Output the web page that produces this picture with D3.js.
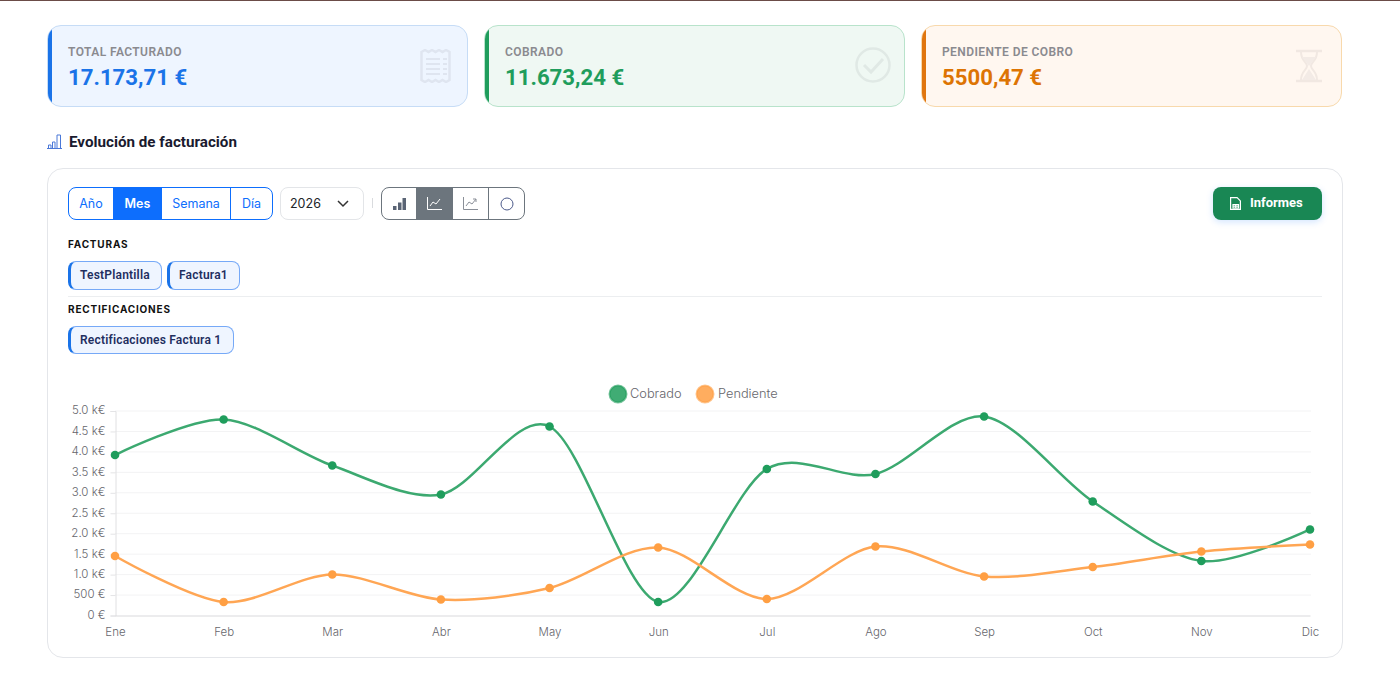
<!DOCTYPE html>
<html lang="es">
<head>
<meta charset="utf-8">
<title>Evolución de facturación</title>
<script src="https://cdn.jsdelivr.net/npm/d3@7/dist/d3.min.js"></script>
<style>
  html, body { margin: 0; padding: 0; background: #fff; width: 1400px; height: 679px; overflow: hidden; font-family: Roboto, sans-serif; }
  .abs { position: absolute; box-sizing: border-box; }
  #topline { left: 0; top: 0; width: 1400px; height: 1px; background: #6b4c48; }
  .kpi { top: 25px; width: 421px; height: 82px; border-radius: 14px; border: 1px solid; overflow: hidden; }
  .kpi .bar { position: absolute; left: -1px; top: -1px; bottom: -1px; width: 5px; }
  .kpi .lbl { position: absolute; left: 20px; top: 19px; font-size: 12px; font-weight: 600; color: #8a8a8f; letter-spacing: .42px; white-space: nowrap; }
  .kpi .val { position: absolute; left: 20px; top: 38px; font-size: 22.2px; font-weight: 700; white-space: nowrap; }
  .kpi svg { position: absolute; }
  #title { left: 69px; top: 133px; font-size: 15.2px; font-weight: 700; color: #1a1a2e; white-space: nowrap; }
  #panel { left: 47px; top: 168px; width: 1296px; height: 490px; border: 1px solid #e4e6ea; border-radius: 16px; }
  .group { top: 187px; height: 33px; display: flex; border-radius: 8px; border: 1px solid; overflow: hidden; font-family: Inter, sans-serif; font-size: 12.5px; }
  .group div { display: flex; align-items: center; justify-content: center; box-sizing: border-box; flex: none; }
  #period { left: 68px; width: 205px; border-color: #0d6efd; color: #0d6efd; }
  #period div + div { border-left: 1px solid #0d6efd; }
  #period .on { background: #0d6efd; color: #fff; font-weight: 600; }
  #year { left: 280px; top: 187px; width: 84px; height: 33px; border: 1px solid #e3e5e8; border-radius: 8px; font-family: Inter, sans-serif; font-size: 12.5px; color: #212529; padding: 8px 0 0 9px; }
  #sep { left: 372px; top: 198px; width: 1px; height: 10px; background: #d9dbde; }
  #types { left: 381px; width: 144px; border-color: #6c757d; }
  #types div + div { border-left: 1px solid #6c757d; }
  #types .on { background: #6c757d; }
  #informes { left: 1213px; top: 187px; width: 109px; height: 33px; border-radius: 8px; background: #198754; color: #fff; font-size: 13px; font-weight: 700; box-shadow: 0 2px 7px rgba(13,110,253,.18); }
  #informes span { position: absolute; left: 37px; top: 8px; }
  .sect { left: 68px; font-family: Inter, sans-serif; font-size: 10px; font-weight: 700; letter-spacing: .82px; color: #111; white-space: nowrap; }
  .chip { height: 29px; border: 1px solid #76a9f7; border-left: 3px solid #1a73e8; border-radius: 8px; background: #eff5ff; color: #1f2f5f; font-family: Roboto, sans-serif; font-size: 12px; font-weight: 600; letter-spacing: .2px; padding: 5.5px 0 0 9px; white-space: nowrap; }
  #rule { left: 68px; top: 296px; width: 1254px; height: 1px; background: #eceef0; }
  #chart { left: 0; top: 370px; }
  #chart text { font-family: Inter, Lato, sans-serif; font-weight: 300; fill: #66666c; }
</style>
</head>
<body>
<div class="abs" id="topline"></div>

<div class="abs kpi" style="left:47px;background:#eef5ff;border-color:#c6dcf6">
  <div class="bar" style="background:#1a73e8"></div>
  <div class="lbl">TOTAL FACTURADO</div><div class="val" style="color:#1a73e8">17.173,71 €</div>
  <svg style="left:372px;top:23px" width="32" height="34" fill="none" stroke="#dfe5f0" stroke-width="2">
    <path d="M1.500 3l3.500-2 3.500 2 3.500-2 3.500 2 3.500-2 3.500 2 3.500-2 3.500 2v28l-3.500 2-3.500-2-3.500 2-3.500-2-3.500 2-3.500-2-3.500 2-3.500-2z" stroke-width="2.500"/><path d="M6 10h14M6 15h14M6 20h14M6 25h14M23 10h4M23 15h4M23 20h4M23 25h4"/>
  </svg>
</div>
<div class="abs kpi" style="left:484px;background:#eff8f3;border-color:#b8e3cb">
  <div class="bar" style="background:#1f9d5c"></div>
  <div class="lbl">COBRADO</div><div class="val" style="color:#1f9d5c">11.673,24 €</div>
  <svg style="left:369px;top:21px" width="38" height="38" fill="none" stroke="#e0e9e5" stroke-width="2.500">
    <circle cx="19" cy="18" r="16.500"/><path d="M10 18l7 7 12-13" stroke-width="3"/>
  </svg>
</div>
<div class="abs kpi" style="left:921px;background:#fff7f0;border-color:#f8d9ac">
  <div class="bar" style="background:#e0760f"></div>
  <div class="lbl">PENDIENTE DE COBRO</div><div class="val" style="color:#dd7403">5500,47 €</div>
  <svg style="left:373px;top:23px" width="28" height="34" fill="#f3ebe6" stroke="#f1e8e2" stroke-width="2">
    <path d="M1 2h26M1 32h26" fill="none" stroke-width="2.500"/>
    <path d="M6 3c0 9 6 10 6 14s-6 5-6 14" fill="none"/><path d="M22 3c0 9-6 10-6 14s6 5 6 14" fill="none"/>
    <path d="M7 8h14l-7 9zM14 20l7 11H7z" stroke="none"/>
  </svg>
</div>

<svg class="abs" style="left:47px;top:134px" width="15" height="15" fill="none" stroke="#4a78d8" stroke-width="1">
  <path d="M1.500 14v-3h2.500v3M5.500 14v-6h2.500v6M10 14V1h3.500v13M0 14.500h15"/>
</svg>
<div class="abs" id="title">Evolución de facturación</div>

<div class="abs" id="panel"></div>

<div class="abs group" id="period">
  <div style="width:44px">Año</div><div class="on" style="width:48px">Mes</div><div style="width:69px">Semana</div><div style="width:42px">Día</div>
</div>
<div class="abs" id="year">2026
  <svg style="position:absolute;left:56px;top:12px" width="12" height="8" fill="none" stroke="#333" stroke-width="1.500"><path d="M1 1l5 5 5-5"/></svg>
</div>
<div class="abs" id="sep"></div>
<div class="abs group" id="types">
  <div style="width:34px"><svg width="13" height="12" fill="#5a6475"><path d="M0 8h3.500v4H0zM5 4.500h3.500V12H5zM9.500 0H13v12H9.500z"/></svg></div>
  <div class="on" style="width:36px"><svg width="15" height="13" fill="none" stroke="#fff"><path d="M.5 0v12.500H15M3 9l3-4 3 2 4-5"/></svg></div>
  <div style="width:36px"><svg width="15" height="13" fill="none" stroke="#8a8f98"><path d="M.5 0v12.500H15M3 9l3-4 3 2 4-5M10 2h3v3" /></svg></div>
  <div style="width:36px"><svg width="14" height="14" fill="none" stroke="#4c5a8a"><circle cx="7" cy="7" r="6"/></svg></div>
</div>
<div class="abs" id="informes">
  <svg style="position:absolute;left:17px;top:10px" width="11" height="13" fill="none" stroke="#fff" stroke-width="1.200"><path d="M.6 12.400V.6h6.500l3.300 3.300v8.500zM3 7.500h5.500v3.500H3zM3 9.200h5.500M5.700 7.500V11"/></svg>
  <span>Informes</span>
</div>

<div class="abs sect" style="top:238px">FACTURAS</div>
<div class="abs chip" style="left:68px;top:261px;width:94px">TestPlantilla</div>
<div class="abs chip" style="left:167px;top:261px;width:73px">Factura1</div>
<div class="abs" id="rule"></div>
<div class="abs sect" style="top:303px">RECTIFICACIONES</div>
<div class="abs chip" style="left:68px;top:326px;width:166px;height:28px">Rectificaciones Factura 1</div>

<svg class="abs" id="chart" width="1400" height="290"></svg>

<script>
var months = ["Ene", "Feb", "Mar", "Abr", "May", "Jun", "Jul", "Ago", "Sep", "Oct", "Nov", "Dic"];
var cobrado = [3924, 4792, 3667, 2958, 4621, 330, 3582, 3460, 4866, 2787, 1333, 2103];
var pendiente = [1455, 330, 1002, 391, 672, 1663, 403, 1687, 954, 1186, 1565, 1736];
var yTicks = [0, 500, 1000, 1500, 2000, 2500, 3000, 3500, 4000, 4500, 5000];
var yTickLabels = ["0 €", "500 €", "1.0 k€", "1.5 k€", "2.0 k€", "2.5 k€", "3.0 k€", "3.5 k€", "4.0 k€", "4.5 k€", "5.0 k€"];

var svg = d3.select("#chart");
var x = d3.scalePoint().domain(months).range([115, 1310]);
var y = d3.scaleLinear().domain([0, 5000]).range([245.5, 41]);

// grid first so the lines sit on top
svg.append("g").selectAll("line").data(yTicks.slice(1)).enter().append("line")
  .attr("x1", 115).attr("x2", 1311)
  .attr("y1", function(d) { return y(d); }).attr("y2", function(d) { return y(d); })
  .attr("stroke", "#f3f3f4");

var yAxis = svg.append("g").attr("transform", "translate(115.5,0)")
  .call(d3.axisLeft(y).tickValues(yTicks).tickSize(5).tickPadding(5)
    .tickFormat(function(d, i) { return yTickLabels[i]; }));
yAxis.selectAll("line").attr("stroke", "#e4e4e6");
yAxis.select(".domain").attr("stroke", "#e0e0e2");
yAxis.selectAll("text").style("font-size", "11.5px").attr("dy", "0.25em");

var xAxis = svg.append("g").attr("transform", "translate(0,245.5)")
  .call(d3.axisBottom(x).tickSize(0).tickPadding(12));
xAxis.select(".domain").attr("stroke", "#d9d9dc");
xAxis.selectAll("text").style("font-size", "11.5px");

var line = d3.line()
  .x(function(d, i) { return x(months[i]); })
  .y(function(d) { return y(d); })
  .curve(d3.curveCardinal.tension(0.1));

var series = [
  { name: "Cobrado", values: cobrado, stroke: "#3ca970", dot: "#1f9d5c", swatch: "#1f9d5c", lx: 618, tx: 630 },
  { name: "Pendiente", values: pendiente, stroke: "#ffa654", dot: "#ff9f43", swatch: "#ff9f43", lx: 705, tx: 718 }
];

series.forEach(function(s) {
  svg.append("path").datum(s.values)
    .attr("d", line).attr("fill", "none")
    .attr("stroke", s.stroke).attr("stroke-width", 2.5);
  svg.append("g").selectAll("circle").data(s.values).enter().append("circle")
    .attr("cx", function(d, i) { return x(months[i]); })
    .attr("cy", function(d) { return y(d); })
    .attr("r", 4.3).attr("fill", s.dot);

  svg.append("circle").attr("cx", s.lx).attr("cy", 24).attr("r", 8.5)
    .attr("fill", s.swatch).attr("fill-opacity", .85)
    .attr("stroke", s.swatch).attr("stroke-opacity", .6).attr("stroke-width", 2);
  svg.append("text").attr("x", s.tx).attr("y", 28).style("font-size", "12.8px").text(s.name);
});
</script>
</body>
</html>
